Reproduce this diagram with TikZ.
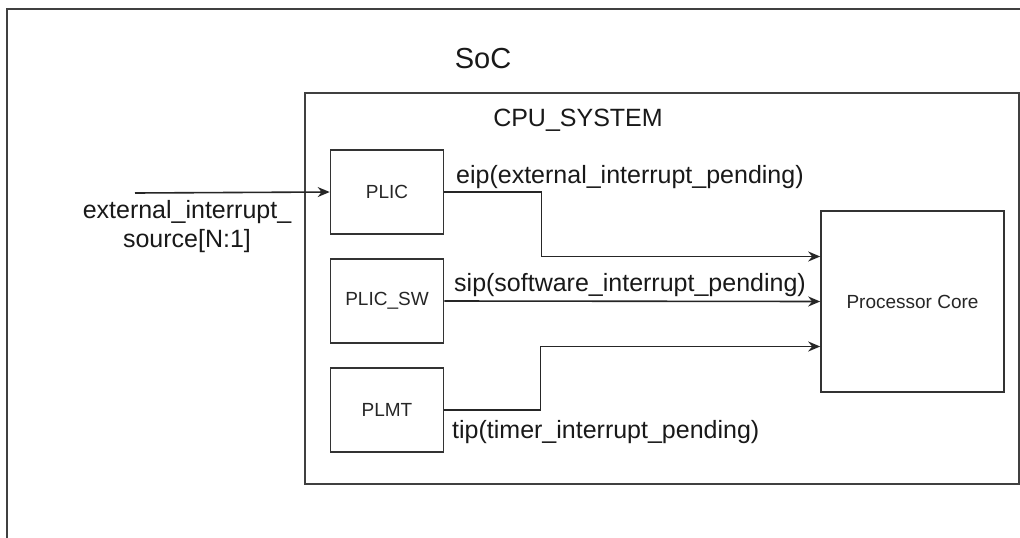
\documentclass[tikz,border=0pt]{standalone}
\usepackage{fontspec}
\setmainfont{Liberation Sans}
\usepackage{tikz}
\usetikzlibrary{arrows.meta}
\usetikzlibrary{positioning}
\newcommand{\bigfont}{\fontsize{29}{33}\selectfont}
\newcommand{\sigfont}{\fontsize{25}{29}\selectfont}
\newcommand{\boxfont}{\fontsize{19}{22}\selectfont}
\tikzset{
	block/.style={rectangle,draw=black!80,line width=1.6pt,inner sep=0pt,
		minimum width=113pt,minimum height=84pt,font=\boxfont,text=black!85},
	frame/.style={rectangle,draw=black!75,line width=1.6pt,inner sep=0pt},
	sig/.style={font=\sigfont,inner sep=0pt,text=black!90},
	wire/.style={line width=1.6pt,black!85}
}

\begin{document}
\begin{tikzpicture}[->,>={Stealth[length=12pt,width=10pt]},node distance=109pt,x=1pt,y=-1pt]
      \useasboundingbox (0,0) rectangle (1020,538);
      \fill[white] (0,0) rectangle (1020,538);

      % SoC frame runs past the page
      \draw[-,line width=1.6pt,draw=black!75] (1020,9) -- (7,9) -- (7,538);
      \node[font=\bigfont,text=black!90] (soc) at (483,59) {SoC};

      \node[frame,minimum width=714pt,minimum height=391pt] (cpu) at (662,288.5) {};
      \node[sig] (cpulabel) at (578,120) {CPU\_SYSTEM};

      \node[block] (plic) at (387,192) {PLIC};
      \node[block] (plicsw) [below of=plic] {PLIC\_SW};
      \node[block] (plmt) [below of=plicsw] {PLMT};

      \node[block,minimum width=183pt,minimum height=181pt] (core) at (912.5,301.5) {Processor Core};

      \coordinate (ext) at (135,193);
      \node[sig,align=center] (extlabel) at (187,227) {external\_interrupt\_\\source[N:1]};

      \node[sig,anchor=west] (eip) at (456,177) {eip(external\_interrupt\_pending)};
      \node[sig,anchor=west] (sip) at (454,285) {sip(software\_interrupt\_pending)};
      \node[sig,anchor=west] (tip) at (452,432) {tip(timer\_interrupt\_pending)};

      \draw[wire] (ext) -- (plic.west);
      \draw[wire] (plicsw.east) -- (core.west);
      \draw[wire] (plic.east) -- ++(97pt,0) |- ([yshift=45pt]core.west);
      \draw[wire] (plmt.east) -- ++(96pt,0) |- ([yshift=-45pt]core.west);
    \end{tikzpicture}
\end{document}
